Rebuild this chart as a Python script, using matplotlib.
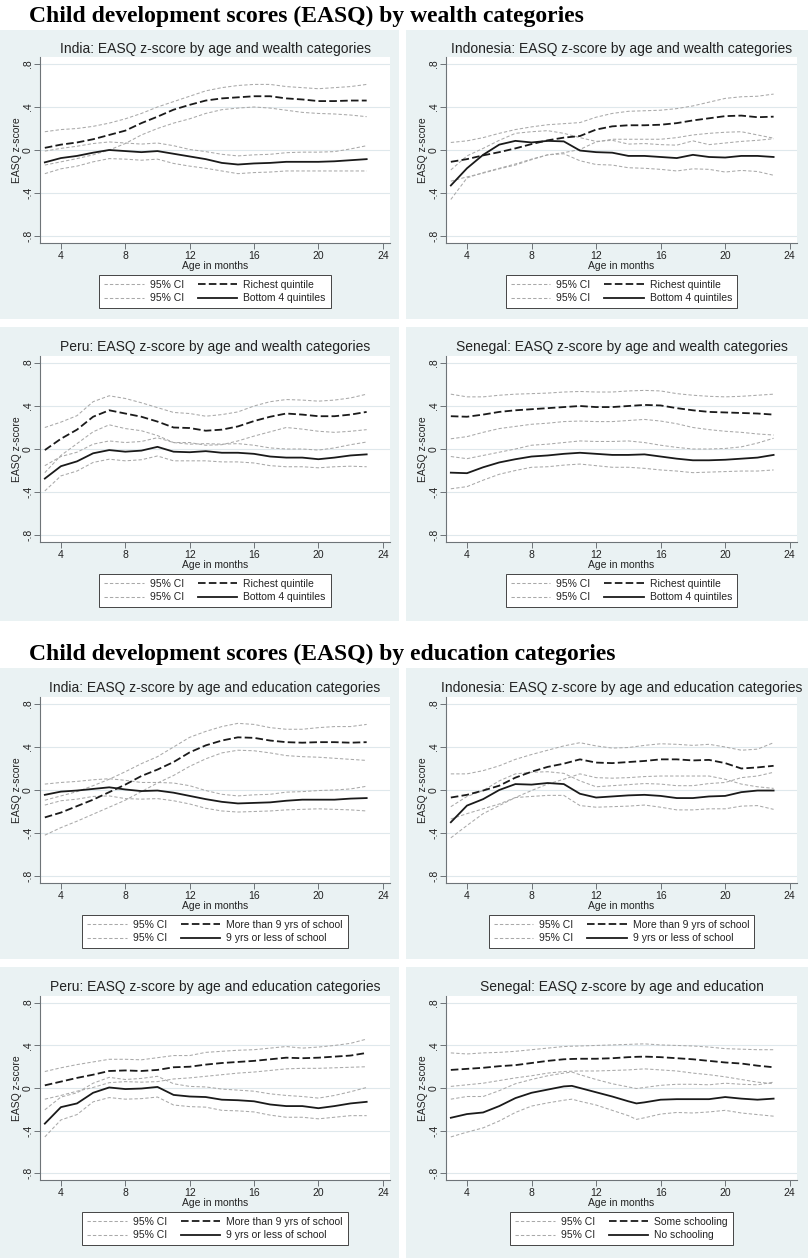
import matplotlib
matplotlib.use("Agg")
import matplotlib.pyplot as plt
from matplotlib.patches import Rectangle

# ---------------- data ----------------
AGES = [3, 4, 5, 6, 7, 8, 9, 10, 11, 12, 13, 14, 15, 16, 17, 18, 19, 20, 21, 22, 23]
SN_E_AGES = [3, 4, 5, 6, 7, 8, 9, 10, 10.5, 11, 12, 13, 14, 14.5, 15, 16, 17, 18, 19, 20, 21, 22, 23]

X_TICKS = [4, 8, 12, 16, 20, 24]
Y_TICKS = [-0.8, -0.4, 0, 0.4, 0.8]
Y_TICK_LABELS = ["-.8", "-.4", "0", ".4", ".8"]

SECTION_TITLES = ["Child development scores (EASQ) by wealth categories",
                  "Child development scores (EASQ) by education categories"]

PANEL_TITLES = ["India: EASQ z-score by age and wealth categories",
                "Indonesia: EASQ z-score by age and wealth categories",
                "Peru: EASQ z-score by age and wealth categories",
                "Senegal: EASQ z-score by age and wealth categories",
                "India: EASQ z-score by age and education categories",
                "Indonesia: EASQ z-score by age and education categories",
                "Peru: EASQ z-score by age and education categories",
                "Senegal: EASQ z-score by age and education"]

WEALTH_LABELS = ["Richest quintile", "Bottom 4 quintiles"]
EDU_LABELS = ["More than 9 yrs of school", "9 yrs or less of school"]
SN_EDU_LABELS = ["Some schooling", "No schooling"]
CI_LABEL = "95% CI"

# India, wealth
IN_W_RICH = [0.02, 0.05, 0.07, 0.10, 0.14, 0.18, 0.25, 0.31, 0.375, 0.42, 0.46, 0.48, 0.49, 0.50, 0.50, 0.48, 0.47, 0.455, 0.455, 0.46, 0.46]
IN_W_RICH_HI = [0.17, 0.19, 0.20, 0.22, 0.25, 0.29, 0.34, 0.40, 0.45, 0.50, 0.55, 0.58, 0.60, 0.61, 0.61, 0.59, 0.58, 0.57, 0.58, 0.59, 0.61]
IN_W_RICH_LO = [-0.14, -0.11, -0.08, -0.045, 0.0, 0.06, 0.14, 0.20, 0.25, 0.29, 0.34, 0.375, 0.39, 0.40, 0.39, 0.37, 0.35, 0.34, 0.335, 0.325, 0.31]
IN_W_BOT = [-0.115, -0.075, -0.055, -0.025, 0.0, -0.01, -0.02, -0.01, -0.035, -0.06, -0.085, -0.12, -0.135, -0.125, -0.12, -0.11, -0.11, -0.11, -0.105, -0.095, -0.085]
IN_W_BOT_HI = [-0.01, 0.015, 0.035, 0.06, 0.075, 0.065, 0.055, 0.065, 0.04, 0.005, -0.015, -0.04, -0.055, -0.045, -0.04, -0.025, -0.02, -0.02, -0.015, 0.01, 0.04]
IN_W_BOT_LO = [-0.22, -0.175, -0.15, -0.11, -0.08, -0.085, -0.095, -0.085, -0.125, -0.15, -0.17, -0.195, -0.22, -0.21, -0.205, -0.195, -0.195, -0.195, -0.195, -0.195, -0.195]

# Indonesia, wealth
ID_W_RICH = [-0.11, -0.085, -0.05, -0.02, 0.015, 0.055, 0.09, 0.115, 0.13, 0.19, 0.22, 0.23, 0.23, 0.235, 0.25, 0.275, 0.295, 0.315, 0.32, 0.305, 0.31]
ID_W_RICH_HI = [0.07, 0.085, 0.115, 0.155, 0.19, 0.215, 0.235, 0.245, 0.255, 0.305, 0.34, 0.36, 0.365, 0.37, 0.385, 0.41, 0.445, 0.48, 0.495, 0.50, 0.52]
ID_W_RICH_LO = [-0.29, -0.25, -0.215, -0.175, -0.14, -0.09, -0.045, -0.025, 0.005, 0.075, 0.10, 0.10, 0.10, 0.10, 0.115, 0.14, 0.155, 0.165, 0.17, 0.14, 0.11]
ID_W_BOT = [-0.33, -0.17, -0.045, 0.05, 0.085, 0.07, 0.085, 0.08, -0.005, -0.02, -0.025, -0.055, -0.055, -0.065, -0.075, -0.045, -0.065, -0.07, -0.055, -0.055, -0.065]
ID_W_BOT_HI = [-0.185, -0.055, 0.015, 0.09, 0.155, 0.17, 0.18, 0.155, 0.115, 0.08, 0.09, 0.055, 0.06, 0.05, 0.045, 0.085, 0.05, 0.065, 0.08, 0.09, 0.105]
ID_W_BOT_LO = [-0.46, -0.26, -0.21, -0.17, -0.13, -0.085, -0.045, -0.035, -0.10, -0.135, -0.14, -0.165, -0.17, -0.18, -0.195, -0.175, -0.18, -0.205, -0.19, -0.20, -0.235]

# Peru, wealth
PE_W_RICH = [-0.01, 0.095, 0.18, 0.30, 0.36, 0.33, 0.30, 0.255, 0.20, 0.195, 0.17, 0.18, 0.21, 0.26, 0.30, 0.33, 0.32, 0.305, 0.305, 0.32, 0.345]
PE_W_RICH_HI = [0.20, 0.25, 0.31, 0.44, 0.495, 0.47, 0.43, 0.385, 0.34, 0.33, 0.305, 0.32, 0.345, 0.40, 0.44, 0.46, 0.455, 0.445, 0.455, 0.475, 0.51]
PE_W_RICH_LO = [-0.22, -0.06, 0.05, 0.16, 0.225, 0.19, 0.17, 0.125, 0.06, 0.06, 0.035, 0.04, 0.075, 0.12, 0.16, 0.20, 0.185, 0.165, 0.155, 0.165, 0.18]
PE_W_BOT = [-0.275, -0.16, -0.115, -0.04, -0.01, -0.025, -0.015, 0.02, -0.025, -0.03, -0.02, -0.035, -0.035, -0.045, -0.07, -0.08, -0.08, -0.095, -0.08, -0.06, -0.05]
PE_W_BOT_HI = [-0.155, -0.07, -0.03, 0.045, 0.075, 0.06, 0.07, 0.105, 0.06, 0.045, 0.05, 0.045, 0.05, 0.035, 0.01, 0.0, 0.0, -0.01, 0.01, 0.04, 0.065]
PE_W_BOT_LO = [-0.39, -0.25, -0.205, -0.125, -0.095, -0.11, -0.10, -0.065, -0.11, -0.11, -0.11, -0.12, -0.12, -0.13, -0.155, -0.165, -0.165, -0.175, -0.165, -0.16, -0.165]

# Senegal, wealth
SN_W_RICH = [0.305, 0.30, 0.32, 0.345, 0.36, 0.37, 0.38, 0.39, 0.40, 0.39, 0.39, 0.40, 0.41, 0.405, 0.38, 0.36, 0.345, 0.34, 0.335, 0.33, 0.32]
SN_W_RICH_HI = [0.51, 0.485, 0.485, 0.50, 0.51, 0.515, 0.52, 0.53, 0.535, 0.53, 0.53, 0.54, 0.545, 0.54, 0.515, 0.50, 0.49, 0.485, 0.49, 0.50, 0.51]
SN_W_RICH_LO = [0.095, 0.115, 0.155, 0.19, 0.21, 0.23, 0.24, 0.255, 0.26, 0.255, 0.255, 0.265, 0.275, 0.26, 0.235, 0.20, 0.18, 0.165, 0.155, 0.14, 0.13]
SN_W_BOT = [-0.22, -0.225, -0.17, -0.125, -0.095, -0.07, -0.06, -0.045, -0.035, -0.045, -0.055, -0.055, -0.05, -0.07, -0.09, -0.105, -0.105, -0.10, -0.09, -0.08, -0.055]
SN_W_BOT_HI = [-0.07, -0.09, -0.06, -0.03, 0.0, 0.035, 0.045, 0.06, 0.075, 0.07, 0.07, 0.075, 0.06, 0.035, 0.015, 0.0, 0.0, 0.005, 0.02, 0.055, 0.10]
SN_W_BOT_LO = [-0.37, -0.35, -0.29, -0.235, -0.20, -0.17, -0.165, -0.15, -0.14, -0.155, -0.17, -0.17, -0.18, -0.195, -0.205, -0.22, -0.215, -0.21, -0.205, -0.205, -0.195]

# India, education
IN_E_HIGH = [-0.255, -0.21, -0.15, -0.09, -0.02, 0.05, 0.13, 0.19, 0.26, 0.35, 0.415, 0.46, 0.49, 0.485, 0.46, 0.445, 0.44, 0.445, 0.445, 0.44, 0.445]
IN_E_HIGH_HI = [-0.095, -0.055, -0.015, 0.04, 0.10, 0.17, 0.245, 0.31, 0.40, 0.49, 0.545, 0.59, 0.62, 0.61, 0.58, 0.565, 0.565, 0.58, 0.59, 0.59, 0.61]
IN_E_HIGH_LO = [-0.42, -0.35, -0.29, -0.225, -0.16, -0.095, -0.015, 0.065, 0.135, 0.22, 0.29, 0.345, 0.37, 0.365, 0.345, 0.32, 0.31, 0.305, 0.295, 0.285, 0.275]
IN_E_LOW = [-0.045, -0.015, -0.005, 0.01, 0.025, 0.005, -0.01, -0.005, -0.025, -0.055, -0.085, -0.11, -0.125, -0.12, -0.115, -0.10, -0.09, -0.09, -0.09, -0.08, -0.075]
IN_E_LOW_HI = [0.055, 0.07, 0.08, 0.095, 0.105, 0.09, 0.07, 0.07, 0.065, 0.04, -0.005, -0.04, -0.055, -0.045, -0.04, -0.02, -0.015, -0.005, 0.0, 0.01, 0.035]
IN_E_LOW_LO = [-0.14, -0.10, -0.085, -0.06, -0.055, -0.08, -0.085, -0.08, -0.10, -0.13, -0.17, -0.195, -0.205, -0.20, -0.195, -0.185, -0.18, -0.175, -0.18, -0.185, -0.195]

# Indonesia, education
ID_E_HIGH = [-0.07, -0.045, -0.005, 0.04, 0.115, 0.17, 0.215, 0.245, 0.285, 0.255, 0.25, 0.26, 0.27, 0.285, 0.285, 0.275, 0.28, 0.25, 0.20, 0.21, 0.225]
ID_E_HIGH_HI = [0.15, 0.15, 0.18, 0.225, 0.285, 0.33, 0.37, 0.41, 0.44, 0.41, 0.39, 0.395, 0.415, 0.43, 0.425, 0.415, 0.425, 0.40, 0.37, 0.38, 0.44]
ID_E_HIGH_LO = [-0.27, -0.22, -0.175, -0.13, -0.07, -0.005, 0.055, 0.10, 0.15, 0.115, 0.11, 0.115, 0.125, 0.13, 0.13, 0.13, 0.13, 0.10, 0.055, 0.03, 0.015]
ID_E_LOW = [-0.30, -0.145, -0.085, 0.0, 0.055, 0.05, 0.065, 0.055, -0.035, -0.07, -0.06, -0.05, -0.045, -0.055, -0.075, -0.075, -0.06, -0.055, -0.02, -0.005, -0.005]
ID_E_LOW_HI = [-0.155, -0.06, -0.005, 0.085, 0.15, 0.165, 0.17, 0.155, 0.085, 0.03, 0.04, 0.05, 0.06, 0.055, 0.04, 0.04, 0.06, 0.07, 0.115, 0.13, 0.165]
ID_E_LOW_LO = [-0.445, -0.33, -0.22, -0.145, -0.07, -0.06, -0.05, -0.05, -0.145, -0.16, -0.155, -0.15, -0.14, -0.16, -0.185, -0.185, -0.175, -0.175, -0.15, -0.145, -0.18]

# Peru, education
PE_E_HIGH = [0.025, 0.06, 0.095, 0.125, 0.16, 0.165, 0.16, 0.17, 0.195, 0.20, 0.22, 0.235, 0.245, 0.255, 0.27, 0.285, 0.28, 0.285, 0.295, 0.305, 0.33]
PE_E_HIGH_HI = [0.155, 0.19, 0.22, 0.245, 0.27, 0.27, 0.265, 0.285, 0.305, 0.305, 0.335, 0.345, 0.355, 0.36, 0.375, 0.39, 0.375, 0.385, 0.40, 0.42, 0.46]
PE_E_HIGH_LO = [-0.105, -0.07, -0.03, 0.005, 0.05, 0.06, 0.055, 0.06, 0.085, 0.095, 0.11, 0.125, 0.14, 0.15, 0.165, 0.18, 0.185, 0.185, 0.19, 0.195, 0.20]
PE_E_LOW = [-0.335, -0.18, -0.145, -0.045, 0.005, -0.01, -0.005, 0.01, -0.065, -0.08, -0.085, -0.11, -0.115, -0.125, -0.155, -0.17, -0.17, -0.19, -0.17, -0.145, -0.13]
PE_E_LOW_HI = [-0.205, -0.085, -0.045, 0.045, 0.10, 0.08, 0.09, 0.11, 0.04, 0.015, 0.01, -0.01, -0.02, -0.03, -0.055, -0.07, -0.08, -0.095, -0.07, -0.035, 0.005]
PE_E_LOW_LO = [-0.46, -0.30, -0.25, -0.13, -0.09, -0.105, -0.10, -0.085, -0.16, -0.175, -0.18, -0.21, -0.215, -0.225, -0.255, -0.275, -0.275, -0.29, -0.275, -0.26, -0.26]

# Senegal, education
SN_E_SOME = [0.17, 0.18, 0.19, 0.205, 0.215, 0.235, 0.255, 0.27, 0.273, 0.275, 0.275, 0.28, 0.29, 0.293, 0.295, 0.29, 0.28, 0.27, 0.255, 0.24, 0.23, 0.21, 0.195]
SN_E_SOME_HI = [0.33, 0.32, 0.33, 0.335, 0.345, 0.36, 0.375, 0.39, 0.393, 0.395, 0.40, 0.405, 0.41, 0.413, 0.415, 0.405, 0.40, 0.395, 0.385, 0.37, 0.365, 0.36, 0.36]
SN_E_SOME_LO = [0.015, 0.03, 0.045, 0.07, 0.095, 0.115, 0.14, 0.155, 0.158, 0.16, 0.16, 0.165, 0.17, 0.175, 0.18, 0.17, 0.16, 0.14, 0.125, 0.105, 0.08, 0.055, 0.04]
SN_E_NONE = [-0.28, -0.245, -0.23, -0.17, -0.095, -0.045, -0.015, 0.015, 0.02, 0.0, -0.04, -0.08, -0.125, -0.145, -0.135, -0.11, -0.105, -0.105, -0.105, -0.085, -0.10, -0.11, -0.10]
SN_E_NONE_HI = [-0.105, -0.08, -0.08, -0.025, 0.04, 0.08, 0.115, 0.14, 0.15, 0.125, 0.08, 0.04, 0.01, -0.005, 0.005, 0.025, 0.035, 0.035, 0.03, 0.045, 0.035, 0.03, 0.055]
SN_E_NONE_LO = [-0.46, -0.415, -0.375, -0.31, -0.23, -0.17, -0.14, -0.115, -0.105, -0.125, -0.16, -0.21, -0.26, -0.295, -0.28, -0.245, -0.23, -0.235, -0.225, -0.21, -0.235, -0.25, -0.265]

PANELS = [
    (AGES, IN_W_RICH, IN_W_RICH_LO, IN_W_RICH_HI, IN_W_BOT, IN_W_BOT_LO, IN_W_BOT_HI, WEALTH_LABELS),
    (AGES, ID_W_RICH, ID_W_RICH_LO, ID_W_RICH_HI, ID_W_BOT, ID_W_BOT_LO, ID_W_BOT_HI, WEALTH_LABELS),
    (AGES, PE_W_RICH, PE_W_RICH_LO, PE_W_RICH_HI, PE_W_BOT, PE_W_BOT_LO, PE_W_BOT_HI, WEALTH_LABELS),
    (AGES, SN_W_RICH, SN_W_RICH_LO, SN_W_RICH_HI, SN_W_BOT, SN_W_BOT_LO, SN_W_BOT_HI, WEALTH_LABELS),
    (AGES, IN_E_HIGH, IN_E_HIGH_LO, IN_E_HIGH_HI, IN_E_LOW, IN_E_LOW_LO, IN_E_LOW_HI, EDU_LABELS),
    (AGES, ID_E_HIGH, ID_E_HIGH_LO, ID_E_HIGH_HI, ID_E_LOW, ID_E_LOW_LO, ID_E_LOW_HI, EDU_LABELS),
    (AGES, PE_E_HIGH, PE_E_HIGH_LO, PE_E_HIGH_HI, PE_E_LOW, PE_E_LOW_LO, PE_E_LOW_HI, EDU_LABELS),
    (SN_E_AGES, SN_E_SOME, SN_E_SOME_LO, SN_E_SOME_HI, SN_E_NONE, SN_E_NONE_LO, SN_E_NONE_HI, SN_EDU_LABELS),
]

# ---------------- layout ----------------
W, H = 810, 1260
BG = "#eaf2f3"
GRID = "#dfe8ec"
AXC = "#6e7478"
DARK = "#1a1a1a"
CI_C = "#a9a9a9"
SANS = ["Liberation Sans", "DejaVu Sans"]
SERIF = ["Liberation Serif", "DejaVu Serif"]

plt.rcParams["font.family"] = SANS

fig = plt.figure(figsize=(W / 100, H / 100), dpi=100)
fig.patch.set_facecolor("white")


def fx(x):
    return x / W


def fy(y):
    return 1 - y / H


ROWS = [dict(bg=(30, 319), T=57, B=243),
        dict(bg=(327, 621), T=356, B=542),
        dict(bg=(668, 959), T=697, B=883),
        dict(bg=(967, 1258), T=996, B=1180)]
COLS = [dict(bg=(0, 399), L=40, R=390), dict(bg=(406, 808), L=446, R=797)]

fig.text(fx(29), fy(16), SECTION_TITLES[0], family=SERIF, fontweight="bold",
         fontsize=17, va="center", ha="left", color="black")
fig.text(fx(29), fy(654), SECTION_TITLES[1], family=SERIF, fontweight="bold",
         fontsize=17, va="center", ha="left", color="black")

for i, (ages, hi_m, hi_lo, hi_hi, lo_m, lo_lo, lo_hi, labels) in enumerate(PANELS):
    r = ROWS[i // 2]
    c = COLS[i % 2]
    fig.add_artist(Rectangle((fx(c["bg"][0]), fy(r["bg"][1])),
                             (c["bg"][1] - c["bg"][0]) / W,
                             (r["bg"][1] - r["bg"][0]) / H,
                             transform=fig.transFigure, facecolor=BG,
                             edgecolor="none", zorder=0))
    L, R, T, B = c["L"], c["R"], r["T"], r["B"]
    ax = fig.add_axes([fx(L), fy(B), (R - L) / W, (B - T) / H])
    ax.set_facecolor("white")
    ax.set_xlim(2.7, 24.45)
    ax.set_ylim(-0.865, 0.865)
    for s in ("top", "right"):
        ax.spines[s].set_visible(False)
    for s in ("left", "bottom"):
        ax.spines[s].set_color(AXC)
        ax.spines[s].set_linewidth(0.8)
    ax.set_yticks(Y_TICKS)
    ax.set_yticklabels(Y_TICK_LABELS, rotation=90, va="center")
    ax.set_xticks(X_TICKS)
    ax.tick_params(axis="both", length=4, width=0.7, color=AXC,
                   labelsize=7.5, labelcolor="#222222")
    ax.tick_params(axis="y", pad=1)
    ax.tick_params(axis="x", pad=2)
    for yv in Y_TICKS:
        ax.axhline(yv, color=GRID, lw=0.8, zorder=0.5)
    ax.set_ylabel("EASQ z-score", fontsize=7.5, color="#222222", labelpad=1)
    ax.set_xlabel("Age in months", fontsize=7.5, color="#222222", labelpad=0)

    ci_kw = dict(color=CI_C, lw=0.75, dashes=(3.2, 2.0), zorder=2)
    h1 = ax.plot(ages, hi_lo, **ci_kw)[0]
    ax.plot(ages, hi_hi, **ci_kw)
    h2 = ax.plot(ages, lo_lo, **ci_kw)[0]
    ax.plot(ages, lo_hi, **ci_kw)
    h3 = ax.plot(ages, hi_m, color=DARK, lw=1.3, dashes=(4.2, 1.8), zorder=3)[0]
    h4 = ax.plot(ages, lo_m, color=DARK, lw=1.3, zorder=3)[0]

    fig.text(fx((L + R) / 2), fy(T - 8.5), PANEL_TITLES[i], ha="center",
             va="center", fontsize=10, color="#222222")

    leg = ax.legend([h1, h2, h3, h4], [CI_LABEL, CI_LABEL, labels[0], labels[1]],
                    ncol=2, loc="upper center",
                    bbox_to_anchor=(fx((L + R) / 2), fy(B + 32)),
                    bbox_transform=fig.transFigure, borderaxespad=0,
                    fontsize=7.5, frameon=True, fancybox=False,
                    edgecolor="#444444", facecolor="white", framealpha=1,
                    handlelength=3.8, handletextpad=0.6, columnspacing=1.3,
                    labelspacing=0.35, borderpad=0.45)
    leg.get_frame().set_linewidth(0.7)
    for t in leg.get_texts():
        t.set_color("#222222")

fig.savefig("out.png", dpi=100, facecolor="white")
